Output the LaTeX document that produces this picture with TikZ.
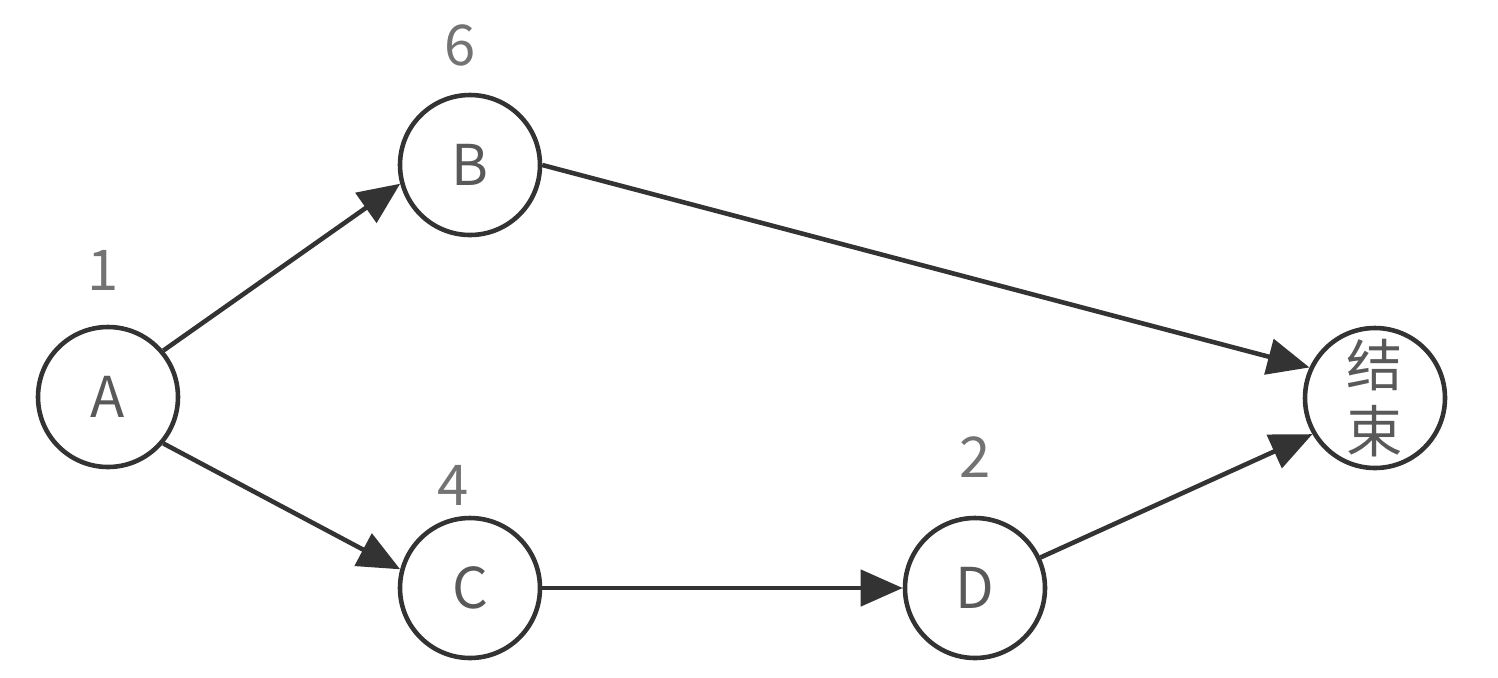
\documentclass[tikz,border=0pt]{standalone}
\usepackage{fontspec}
\setmainfont{Noto Sans CJK SC}
\usetikzlibrary{arrows.meta,positioning}

\tikzset{
    task/.style={circle, draw=black!80, line width=1.3pt, minimum size=1.4cm, inner sep=0pt, text=black!65, font=\fontsize{16}{16}\selectfont},
    cost/.style={text=black!55, font=\fontsize{16}{16}\selectfont},
    flow/.style={-{Triangle[length=4.2mm,width=3.6mm]}, line width=1.3pt, draw=black!80}
}

\begin{document}
\begin{tikzpicture}
        \useasboundingbox (0, 0) rectangle (14.98, 6.77);

        \node[task] (a) at (1.08, 2.80) {A};
        \node[task] (b) at (4.70, 5.12) {B};
        \node[task] (c) at (4.70, 0.89) {C};
        \node[task] (d) at (9.75, 0.89) {D};
        \node[task, align=center, font=\fontsize{16}{19}\selectfont] (end) at (13.75, 2.79) {结\\束};

        \node[cost] (na) at (1.03, 4.07) {1};
        \node[cost] (nb) at (4.60, 6.32) {6};
        \node[cost] (nc) at (4.53, 1.92) {4};
        \node[cost] (nd) at (9.75, 2.20) {2};

        \draw[flow] (a.40) -- (b.195);
        \draw[flow] (a.-40) -- (c.165);
        \draw[flow] (b.east) -- (end.155);
        \draw[flow] (c) -- (d);
        \draw[flow] (d.25) -- (end.210);
    \end{tikzpicture}
\end{document}
